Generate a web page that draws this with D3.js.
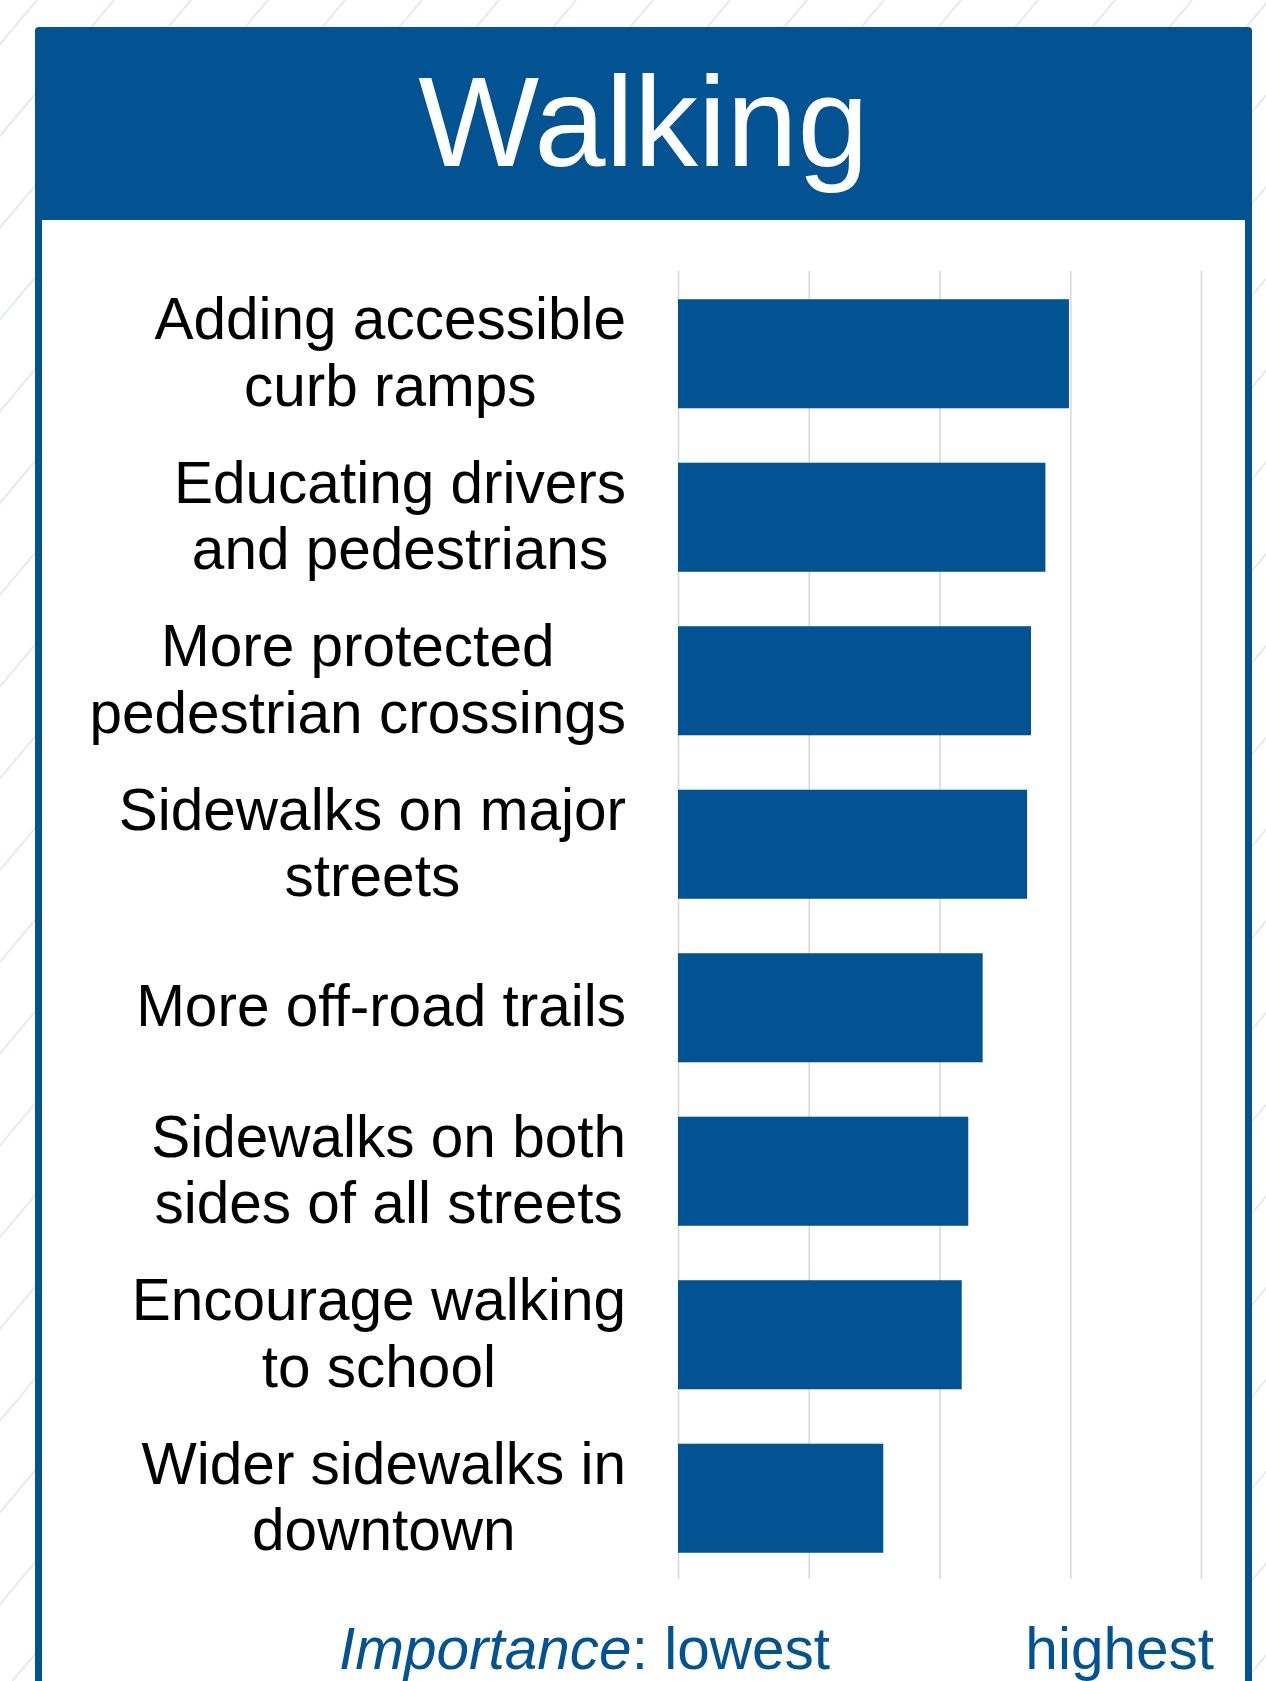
<!DOCTYPE html>
<html>
<head>
<meta charset="utf-8">
<script src="https://cdn.jsdelivr.net/npm/d3@7"></script>
<style>
  html, body { margin: 0; padding: 0; background: #ffffff; }
  svg { display: block; }
  text { font-family: "Liberation Sans", Arial, Helvetica, sans-serif; }
</style>
</head>
<body>
<script>
// Survey: how important is each walking improvement (mean importance score)
const categories = [
  ["Adding accessible", "curb ramps"],
  ["Educating drivers", "and pedestrians"],
  ["More protected", "pedestrian crossings"],
  ["Sidewalks on major", "streets"],
  ["More off-road trails"],
  ["Sidewalks on both", "sides of all streets"],
  ["Encourage walking", "to school"],
  ["Wider sidewalks in", "downtown"]
];
const scores = [2.99, 2.81, 2.70, 2.67, 2.33, 2.22, 2.17, 1.57];
const scoreTicks = [0, 1, 2, 3, 4];
const title = "Walking";

(function draw() {
  const W = 1266, H = 1681;
  const BLUE = "#035393";

  const svg = d3.select("body").append("svg")
    .attr("width", W).attr("height", H)
    .attr("viewBox", `0 0 ${W} ${H}`);

  // faint diagonal hatching behind the card
  const hatch = svg.append("g")
    .attr("stroke", "#e7e9f4").attr("stroke-width", 2);
  const slant = H / Math.tan(50 * Math.PI / 180);
  for (let x0 = -40; x0 < W + slant + 80; x0 += 77) {
    hatch.append("line")
      .attr("x1", x0).attr("y1", 0)
      .attr("x2", x0 - slant).attr("y2", H);
  }

  // card with blue frame
  const cardL = 35, cardR = 1252, cardT = 27, headerB = 220, border = 7;
  svg.append("rect")
    .attr("x", cardL + border / 2).attr("y", cardT + border / 2)
    .attr("width", cardR - cardL - border).attr("height", H + 40)
    .attr("rx", 3)
    .attr("fill", "#ffffff").attr("stroke", BLUE).attr("stroke-width", border);

  svg.append("path")
    .attr("d", `M${cardL},${headerB} V${cardT + 4} Q${cardL},${cardT} ${cardL + 4},${cardT} H${cardR - 4} Q${cardR},${cardT} ${cardR},${cardT + 4} V${headerB} Z`)
    .attr("fill", BLUE);

  svg.append("text")
    .attr("x", (cardL + cardR) / 2).attr("y", 166)
    .attr("text-anchor", "middle")
    .attr("fill", "#ffffff")
    .attr("font-size", 128)
    .text(title);

  // scales
  const x = d3.scaleLinear().domain([0, 4]).range([678, 1201]);
  const y = d3.scaleBand()
    .domain(d3.range(categories.length))
    .range([272, 1580])
    .paddingInner(0.333)
    .paddingOuter(0.1665);

  // vertical gridlines
  const grid = svg.append("g")
    .attr("transform", `translate(0,${1579})`)
    .call(d3.axisBottom(x).tickValues(scoreTicks).tickSize(-(1579 - 271)).tickFormat(""));
  grid.select(".domain").remove();
  grid.selectAll(".tick line").attr("stroke", "#d9d9d9").attr("stroke-width", 1.6);

  // bars
  svg.append("g").selectAll("rect")
    .data(scores)
    .join("rect")
    .attr("x", x(0))
    .attr("y", (d, i) => y(i))
    .attr("width", d => x(d) - x(0))
    .attr("height", y.bandwidth())
    .attr("fill", BLUE);

  // category labels: multi-line blocks, each line centred, block right-aligned
  const labelRight = 626, fs = 58.5, lineH = 66.5;
  const labels = svg.append("g").attr("font-size", fs).attr("fill", "#000000");
  categories.forEach((lines, i) => {
    const g = labels.append("g");
    const cy = y(i) + y.bandwidth() / 2;
    const texts = lines.map((ln, k) => g.append("text")
      .attr("y", cy + (k - (lines.length - 1) / 2) * lineH + 58 * 0.32)
      .attr("text-anchor", "middle")
      .text(ln));
    const maxW = d3.max(texts, t => t.node().getComputedTextLength());
    texts.forEach(t => t.attr("x", labelRight - maxW / 2));
  });

  // importance scale caption
  const cap = svg.append("text")
    .attr("x", 339).attr("y", 1669)
    .attr("font-size", fs).attr("fill", BLUE);
  cap.append("tspan").attr("font-style", "italic").text("Importance");
  cap.append("tspan").text(": lowest");

  svg.append("text")
    .attr("x", 1214).attr("y", 1669)
    .attr("text-anchor", "end")
    .attr("font-size", fs).attr("fill", BLUE)
    .text("highest");
})();
</script>
</body>
</html>
